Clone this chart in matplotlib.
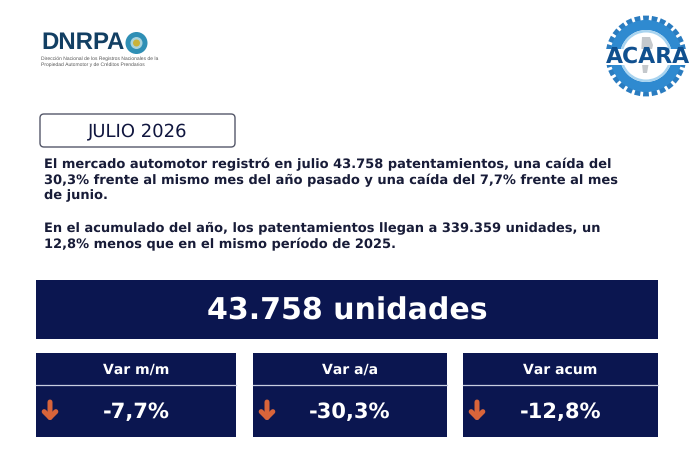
import numpy as np
import matplotlib
matplotlib.use("Agg")
import matplotlib.pyplot as plt
from matplotlib.patches import Rectangle, FancyBboxPatch, Circle, Wedge, Polygon

plt.rcParams["text.hinting"] = "none"
plt.rcParams["text.hinting_factor"] = 1

NAVY = "#0b1650"
ORANGE = "#d9643a"
title = "JULIO 2026"
para1 = ["El mercado automotor registró en julio 43.758 patentamientos, una caída del",
         "30,3% frente al mismo mes del año pasado y una caída del 7,7% frente al mes",
         "de junio."]
para2 = ["En el acumulado del año, los patentamientos llegan a 339.359 unidades, un",
         "12,8% menos que en el mismo período de 2025."]
headline = "43.758 unidades"
card_labels = ["Var m/m", "Var a/a", "Var acum"]
card_values = ["-7,7%", "-30,3%", "-12,8%"]
card_x = [(36, 236), (253, 447), (463, 658)]

fig = plt.figure(figsize=(7, 4.51), dpi=100, facecolor="white")
ax = fig.add_axes([0, 0, 1, 1])
ax.set_xlim(0, 700); ax.set_ylim(451, 0); ax.axis("off")

# DNRPA logo
ax.text(41, 43, "DNRPA", fontsize=17, fontweight="bold", color="#123f63", family="Liberation Sans", va="center", ha="left")
ax.add_patch(Circle((136.5, 43), 11, color="#2f8fb5", lw=0))
ax.add_patch(Circle((136.5, 43), 6, color="#a9d3dc", lw=0))
ax.add_patch(Circle((136.5, 43), 3.5, color="#c9b23a", lw=0))
ax.text(41, 59, "Dirección Nacional de los Registros Nacionales de la", fontsize=3.3, color="#555555", family="Liberation Sans", va="center")
ax.text(41, 65, "Propiedad Automotor y de Créditos Prendarios", fontsize=3.3, color="#555555", family="Liberation Sans", va="center")

# ACARA logo
cx, cy = 646, 56
ang = np.linspace(0, 2*np.pi, 29)[:-1]
for a in ang:
    d = 0.075
    r1, r2 = 33, 40.5
    ax.add_patch(Polygon([(cx+r1*np.cos(a-d), cy+r1*np.sin(a-d)), (cx+r2*np.cos(a-d), cy+r2*np.sin(a-d)),
                          (cx+r2*np.cos(a+d), cy+r2*np.sin(a+d)), (cx+r1*np.cos(a+d), cy+r1*np.sin(a+d))],
                         color="#2a7cc0", lw=0))
ax.add_patch(Wedge((cx, cy), 36, 0, 360, width=10, color="#2f8ad0", lw=0))
ax.add_patch(Wedge((cx, cy), 26, 0, 360, width=2.5, color="#a8d4f0", lw=0))
ax.add_patch(Polygon([(642, 37), (650, 37), (653, 45), (649, 62), (647, 73), (643, 73), (641, 55)], color="#c4c8cc", lw=0))
ax.add_patch(Rectangle((598, 48.5), 98, 16, color="white", lw=0))
ax.text(647.5, 57, "ACARA", fontsize=16, fontweight="bold", color="#10508f", family="DejaVu Sans", ha="center", va="center")

# Month box
ax.add_patch(FancyBboxPatch((40, 114), 195, 33, boxstyle="round,pad=0,rounding_size=4", fc="white", ec="#55586a", lw=1))
ax.text(137.5, 131, title, fontsize=12.8, color="#10163f", ha="center", va="center", family="DejaVu Sans")

# Paragraphs
for y, s in zip([164, 180, 196], para1):
    ax.text(44, y, s, fontsize=9.45, fontweight="bold", color="#181c38", va="center", ha="left", family="DejaVu Sans")
for y, s in zip([228, 244], para2):
    ax.text(44, y, s, fontsize=9.45, fontweight="bold", color="#181c38", va="center", ha="left", family="DejaVu Sans")

# Headline band
ax.add_patch(Rectangle((36, 280), 622, 59, color=NAVY, lw=0))
ax.text(347.5, 311, headline, fontsize=21.5, fontweight="bold", color="white", ha="center", va="center", family="DejaVu Sans")

# Cards
for (x0, x1), lab, val in zip(card_x, card_labels, card_values):
    ax.add_patch(Rectangle((x0, 353), x1-x0, 84, color=NAVY, lw=0))
    ax.plot([x0, x1], [384.5, 384.5], color="#c8cde0", lw=0.9)
    ax.text((x0+x1)/2, 369.5, lab, fontsize=9.9, fontweight="bold", color="white", ha="center", va="center", family="DejaVu Sans")
    ax.text((x0+x1)/2, 412.5, val, fontsize=15.4, fontweight="bold", color="white", ha="center", va="center", family="DejaVu Sans")
    ax.annotate("", xy=(x0+14, 421), xytext=(x0+14, 402),
                arrowprops=dict(arrowstyle="->,head_length=0.42,head_width=0.42", color=ORANGE, lw=3.6, shrinkA=0, shrinkB=0))

fig.savefig("out.png", dpi=100)
